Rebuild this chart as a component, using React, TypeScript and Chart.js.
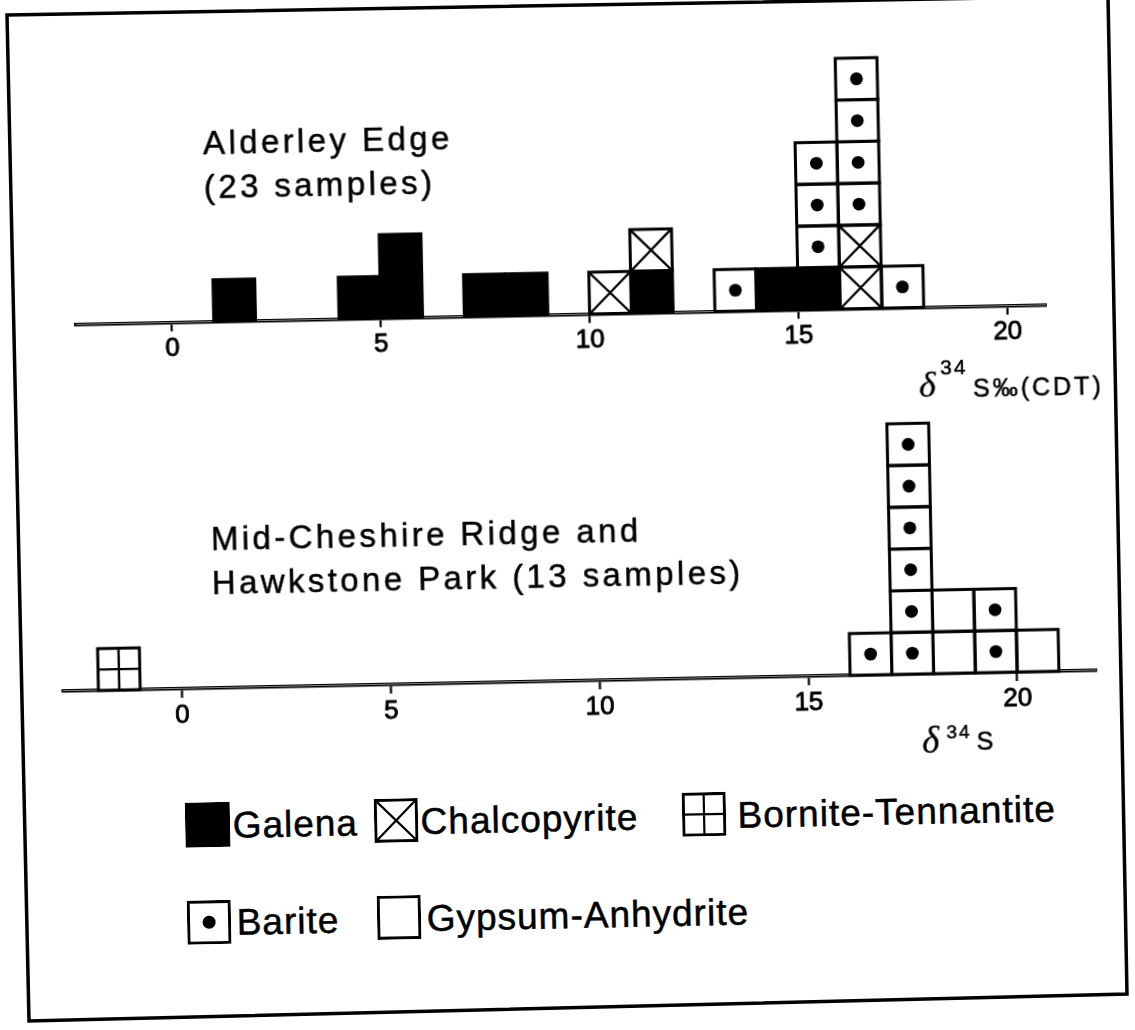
import React, { useEffect, useRef } from "react";
import { Chart, registerables } from "chart.js";

Chart.register(...registerables);

const SANS = "'Liberation Sans', Arial, Helvetica, sans-serif";
const SERIF = "'Liberation Serif', 'DejaVu Serif', 'Times New Roman', serif";

// ---------- data ----------
// left edges of the 1 ‰ wide δ34S bins
const binStarts = [-3, -2, -1, 0, 1, 2, 3, 4, 5, 6, 7, 8, 9, 10, 11, 12, 13, 14, 15, 16, 17, 18, 19, 20, 21];
const tickValues = [0, 5, 10, 15, 20];
const mineralNames = ["Galena", "Chalcopyrite", "Bornite-Tennantite", "Barite", "Gypsum-Anhydrite"];

// Alderley Edge (sample counts per bin)
const alderleyGalena = [0, 0, 0, 0, 1, 0, 0, 1, 2, 0, 1, 1, 0, 0, 1, 0, 0, 1, 1, 0, 0, 0, 0, 0, 0];
const alderleyChalcopyrite = [0, 0, 0, 0, 0, 0, 0, 0, 0, 0, 0, 0, 0, 1, 1, 0, 0, 0, 0, 2, 0, 0, 0, 0, 0];
const alderleyBornite = [0, 0, 0, 0, 0, 0, 0, 0, 0, 0, 0, 0, 0, 0, 0, 0, 0, 0, 0, 0, 0, 0, 0, 0, 0];
const alderleyBarite = [0, 0, 0, 0, 0, 0, 0, 0, 0, 0, 0, 0, 0, 0, 0, 0, 1, 0, 3, 4, 1, 0, 0, 0, 0];
const alderleyGypsum = [0, 0, 0, 0, 0, 0, 0, 0, 0, 0, 0, 0, 0, 0, 0, 0, 0, 0, 0, 0, 0, 0, 0, 0, 0];

// Mid-Cheshire Ridge and Hawkstone Park (sample counts per bin)
const cheshireGalena = [0, 0, 0, 0, 0, 0, 0, 0, 0, 0, 0, 0, 0, 0, 0, 0, 0, 0, 0, 0, 0, 0, 0, 0, 0];
const cheshireChalcopyrite = [0, 0, 0, 0, 0, 0, 0, 0, 0, 0, 0, 0, 0, 0, 0, 0, 0, 0, 0, 0, 0, 0, 0, 0, 0];
const cheshireBornite = [0, 1, 0, 0, 0, 0, 0, 0, 0, 0, 0, 0, 0, 0, 0, 0, 0, 0, 0, 0, 0, 0, 0, 0, 0];
const cheshireBarite = [0, 0, 0, 0, 0, 0, 0, 0, 0, 0, 0, 0, 0, 0, 0, 0, 0, 0, 0, 1, 6, 0, 2, 0, 0];
const cheshireGypsum = [0, 0, 0, 0, 0, 0, 0, 0, 0, 0, 0, 0, 0, 0, 0, 0, 0, 0, 0, 0, 0, 2, 0, 1, 0];

// ---------- styles ----------
const mineralFill = ["#000000", "#ffffff", "#ffffff", "#ffffff", "#ffffff"];
const mineralMark = ["solid", "cross", "grid", "dot", "plain"];

const cellPlugin = {
  id: "cellPatterns",
  afterDatasetsDraw(chart: any) {
    const ctx = chart.ctx;
    ctx.save();
    ctx.strokeStyle = "#000";
    ctx.fillStyle = "#000";
    chart.data.datasets.forEach((ds: any, di: number) => {
      const meta = chart.getDatasetMeta(di);
      if (meta.hidden) return;
      const mark = ds.mark;
      meta.data.forEach((el: any, i: number) => {
        const n = ds.data[i];
        if (!n) return;
        const p = el.getProps(["x", "y", "base", "width"], true);
        const w = p.width;
        const left = p.x - w / 2;
        const h = (p.base - p.y) / n;
        for (let k = 0; k < n; k++) {
          const top = p.base - (k + 1) * h;
          if (mark === "solid") {
            ctx.fillRect(left, top, w, h);
          }
          ctx.lineWidth = 3;
          ctx.strokeRect(left, top, w, h);
          ctx.lineWidth = 2.4;
          if (mark === "cross") {
            ctx.beginPath();
            ctx.moveTo(left, top);
            ctx.lineTo(left + w, top + h);
            ctx.moveTo(left + w, top);
            ctx.lineTo(left, top + h);
            ctx.stroke();
          } else if (mark === "grid") {
            ctx.beginPath();
            ctx.moveTo(left + w / 2, top);
            ctx.lineTo(left + w / 2, top + h);
            ctx.moveTo(left, top + h / 2);
            ctx.lineTo(left + w, top + h / 2);
            ctx.stroke();
          } else if (mark === "dot") {
            ctx.beginPath();
            ctx.arc(left + w / 2, top + h / 2, 6.4, 0, Math.PI * 2);
            ctx.fill();
          }
        }
      });
    });
    ctx.restore();
  },
};

function makeChart(
  canvas: HTMLCanvasElement,
  series: number[][],
  min: number,
  max: number,
  ymax: number,
  padding: { left: number; right: number; top: number; bottom: number }
) {
  const binCenters = binStarts.map((b) => b + 0.5);
  return new Chart(canvas, {
    type: "bar",
    data: {
      labels: binCenters as any,
      datasets: series.map((counts, i) => ({
        label: mineralNames[i],
        data: counts,
        backgroundColor: mineralFill[i],
        borderWidth: 0,
        barPercentage: 1,
        categoryPercentage: 1,
        mark: mineralMark[i],
      })) as any,
    },
    options: {
      responsive: false,
      animation: false,
      devicePixelRatio: 1,
      events: [],
      layout: { padding },
      plugins: { legend: { display: false }, tooltip: { enabled: false }, title: { display: false } },
      scales: {
        x: {
          type: "linear",
          min,
          max,
          offset: false,
          stacked: true,
          afterBuildTicks: (s: any) => {
            s.ticks = tickValues.map((v) => ({ value: v }));
          },
          afterFit: (s: any) => {
            s.height = 50;
          },
          grid: {
            display: true,
            drawOnChartArea: false,
            drawTicks: true,
            tickLength: 9,
            tickWidth: 2.2,
            tickColor: "#000",
            color: "#000",
            offset: false,
          },
          border: { display: true, color: "#000", width: 3.6 },
          ticks: {
            color: "#000",
            font: { family: SANS, size: 26 },
            textStrokeColor: "#000",
            textStrokeWidth: 0.9,
            padding: 2,
            maxRotation: 0,
            autoSkip: false,
          },
        },
        y: { display: false, stacked: true, min: 0, max: ymax },
      },
    } as any,
    plugins: [cellPlugin],
  });
}

function Swatch({ mark, left, top, size }: { mark: string; left: number; top: number; size: number }) {
  const a = 1.5;
  const b = size - 1.5;
  return (
    <svg style={{ position: "absolute", left, top }} width={size} height={size} viewBox={`0 0 ${size} ${size}`}>
      <rect x={a} y={a} width={b - a} height={b - a} fill={mark === "solid" ? "#000" : "#fff"} stroke="#000" strokeWidth={3} />
      {mark === "cross" && <path d={`M${a} ${a} L${b} ${b} M${b} ${a} L${a} ${b}`} stroke="#000" strokeWidth={2.2} />}
      {mark === "grid" && (
        <path d={`M${size / 2} ${a} V${b} M${a} ${size / 2} H${b}`} stroke="#000" strokeWidth={2.2} />
      )}
      {mark === "dot" && <circle cx={size / 2} cy={size / 2} r={6.5} fill="#000" />}
    </svg>
  );
}

const txt = (left: number, top: number, size: number, extra: any = {}) => ({
  position: "absolute" as const,
  left,
  top,
  fontFamily: SANS,
  fontSize: size,
  lineHeight: `${size}px`,
  whiteSpace: "nowrap" as const,
  color: "#000",
  WebkitTextStroke: "0.5px #000",
  ...extra,
});

export default function App() {
  const topRef = useRef<HTMLCanvasElement>(null);
  const botRef = useRef<HTMLCanvasElement>(null);

  useEffect(() => {
    Chart.defaults.font.family = SANS;
    const c1 = makeChart(
      topRef.current!,
      [alderleyGalena, alderleyChalcopyrite, alderleyBornite, alderleyBarite, alderleyGypsum],
      -2.3,
      20.93,
      7,
      { left: 79.9, right: 84.8, top: 22.1, bottom: 15.5 }
    );
    const c2 = makeChart(
      botRef.current!,
      [cheshireGalena, cheshireChalcopyrite, cheshireBornite, cheshireBarite, cheshireGypsum],
      -2.85,
      21.9,
      8,
      { left: 59.5, right: 41.7, top: 6.8, bottom: 29 }
    );
    return () => {
      c1.destroy();
      c2.destroy();
    };
  }, []);

  const title = { letterSpacing: "3.4px" };

  return (
    <div style={{ position: "fixed", left: 0, top: 0, width: 1135, height: 1030, overflow: "hidden", background: "#fff" }}>
      <svg style={{ position: "absolute", left: 0, top: 0 }} width={1135} height={1030}>
        <polygon points="7,15 1108,-4 1127,994 29,1021" fill="none" stroke="#000" strokeWidth={3.5} strokeLinejoin="miter" />
      </svg>
      <div
        style={{
          position: "absolute",
          left: 0,
          top: 0,
          width: 1135,
          height: 1030,
          transform: "rotate(-1.15deg)",
          transformOrigin: "567px 515px",
        }}
      >
        <canvas ref={topRef} width={1135} height={380} style={{ position: "absolute", left: 0, top: 0, width: 1135, height: 380 }} />
        <canvas ref={botRef} width={1135} height={420} style={{ position: "absolute", left: 0, top: 340, width: 1135, height: 420 }} />

        {/* panel titles */}
        <div style={txt(210.5, 114.3, 33, { ...title, lineHeight: "44px" })}>
          Alderley Edge
          <br />
          (23 samples)
        </div>
        <div style={txt(210.5, 510.1, 33, { ...title, lineHeight: "44px" })}>
          Mid-Cheshire Ridge and
          <br />
          Hawkstone Park (13 samples)
        </div>

        {/* axis titles */}
        <span style={txt(921.5, 374.3, 36, { fontFamily: SERIF, fontStyle: "italic", WebkitTextStroke: "0.3px #000" })}>δ</span>
        <span style={txt(943, 364, 21, { letterSpacing: "2px" })}>34</span>
        <span style={txt(975.5, 383.5, 25, { letterSpacing: "3px" })}>S‰(CDT)</span>

        <span style={txt(917.5, 728.8, 37, { fontFamily: SERIF, fontStyle: "italic", WebkitTextStroke: "0.3px #000" })}>δ</span>
        <span style={txt(942, 730, 19, { letterSpacing: "2px" })}>34</span>
        <span style={txt(972, 737.2, 25)}>S</span>

        {/* legend */}
        <Swatch mark={mineralMark[0]} left={179} top={795} size={45} />
        <span style={txt(226.5, 800.3, 37, { letterSpacing: "1px" })}>{mineralNames[0]}</span>
        <Swatch mark={mineralMark[1]} left={368} top={795} size={44} />
        <span style={txt(414.5, 800.3, 37, { letterSpacing: "1px" })}>{mineralNames[1]}</span>
        <Swatch mark={mineralMark[2]} left={676} top={795} size={44} />
        <span style={txt(731.5, 800.3, 37, { letterSpacing: "1px" })}>{mineralNames[2]}</span>

        <Swatch mark={mineralMark[3]} left={179} top={893} size={44} />
        <span style={txt(228.6, 897.2, 37, { letterSpacing: "1px" })}>{mineralNames[3]}</span>
        <Swatch mark={mineralMark[4]} left={369} top={892} size={44} />
        <span style={txt(418.6, 897.2, 37, { letterSpacing: "1px" })}>{mineralNames[4]}</span>
      </div>
    </div>
  );
}
